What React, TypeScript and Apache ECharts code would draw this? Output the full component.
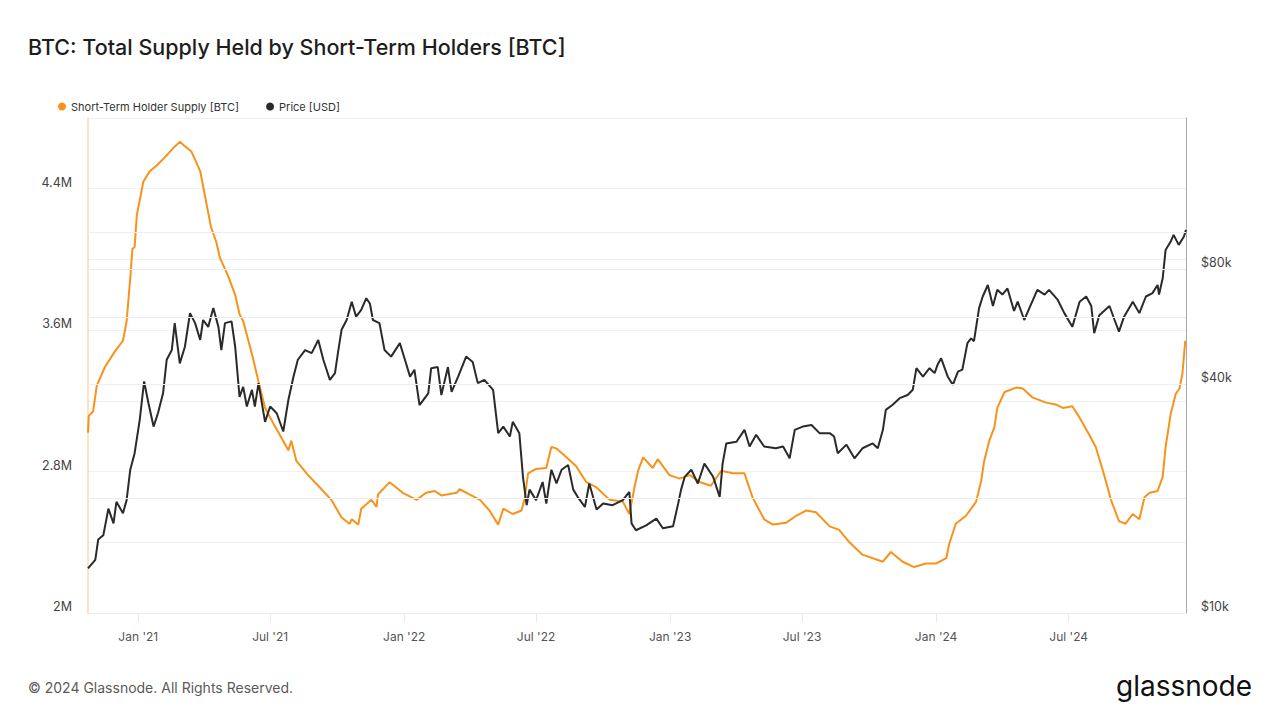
import React, { useEffect, useRef } from "react";
import * as echarts from "echarts";

// ---- Data ----
const START_UTC = Date.UTC(2020, 9, 24); // first day on the x axis
const DAY_COUNT = 1508; // Oct 24 2020 .. Dec 8 2024

// Short-Term Holder Supply [BTC], in millions; x = days since start
const sthDays = [
  0, 1, 7, 12, 23, 37, 48, 53, 58, 61, 64, 67, 76, 85, 94, 106, 117, 126, 133, 142,
  154, 160, 169, 176, 181, 192, 202, 208, 213, 225, 234, 243, 256, 275, 279, 286, 302, 316, 334, 348,
  359, 362, 371, 375, 389, 396, 398, 414, 432, 451, 464, 476, 485, 506, 510, 524, 538, 551, 563, 570,
  583, 595, 599, 604, 615, 629, 636, 643, 657, 670, 684, 698, 716, 734, 743, 750, 755, 762, 775, 782,
  798, 812, 826, 840, 855, 869, 885, 901, 912, 928, 940, 958, 972, 986, 999, 1018, 1031, 1045, 1063, 1091,
  1102, 1118, 1134, 1150, 1164, 1178, 1182, 1191, 1205, 1219, 1226, 1230, 1237, 1244, 1248, 1258, 1274, 1283, 1296, 1315,
  1328, 1338, 1351, 1361, 1374, 1383, 1393, 1404, 1415, 1424, 1434, 1443, 1450, 1457, 1468, 1475, 1479, 1486, 1493, 1498,
  1502, 1506,
];
const sthSupplyM = [
  3.02, 3.115, 3.14, 3.285, 3.39, 3.48, 3.54, 3.65, 3.895, 4.06, 4.07, 4.25, 4.44, 4.5, 4.53, 4.58, 4.63, 4.665, 4.64, 4.61,
  4.5, 4.37, 4.18, 4.1, 4.01, 3.91, 3.8, 3.69, 3.65, 3.465, 3.31, 3.16, 3.06, 2.92, 2.975, 2.86, 2.78, 2.72, 2.64, 2.54,
  2.505, 2.53, 2.5, 2.59, 2.64, 2.6, 2.67, 2.74, 2.68, 2.64, 2.68, 2.69, 2.665, 2.68, 2.7, 2.67, 2.64, 2.58, 2.5, 2.59,
  2.56, 2.58, 2.64, 2.79, 2.815, 2.82, 2.94, 2.93, 2.88, 2.83, 2.74, 2.71, 2.64, 2.63, 2.56, 2.71, 2.805, 2.88, 2.82, 2.87,
  2.78, 2.76, 2.78, 2.74, 2.72, 2.805, 2.79, 2.79, 2.655, 2.53, 2.5, 2.51, 2.55, 2.58, 2.57, 2.49, 2.47, 2.4, 2.33, 2.29,
  2.345, 2.29, 2.26, 2.28, 2.28, 2.31, 2.39, 2.505, 2.55, 2.63, 2.75, 2.86, 2.975, 3.05, 3.16, 3.25, 3.275, 3.27, 3.22, 3.19,
  3.18, 3.16, 3.17, 3.105, 3.01, 2.94, 2.805, 2.64, 2.52, 2.505, 2.56, 2.53, 2.655, 2.68, 2.69, 2.77, 2.94, 3.125, 3.24, 3.27,
  3.35, 3.54,
];

// Price [USD], in thousands; x = days since start
const priceDays = [
  0, 10, 14, 21, 28, 35, 39, 48, 53, 58, 64, 71, 77, 83, 90, 96, 103, 108, 115, 119,
  126, 133, 140, 147, 154, 158, 165, 172, 179, 183, 188, 197, 202, 208, 213, 218, 225, 229, 234, 243,
  250, 259, 268, 275, 282, 288, 298, 307, 316, 323, 332, 339, 343, 348, 355, 362, 368, 375, 382, 387,
  391, 400, 407, 416, 428, 435, 442, 448, 455, 467, 471, 480, 485, 494, 499, 508, 519, 528, 535, 544,
  556, 563, 570, 579, 583, 592, 597, 602, 606, 615, 624, 629, 636, 643, 650, 659, 666, 672, 682, 688,
  698, 707, 720, 734, 743, 746, 752, 766, 780, 789, 803, 810, 814, 819, 828, 837, 846, 858, 867, 871,
  876, 890, 901, 908, 917, 928, 944, 954, 963, 970, 981, 993, 1004, 1018, 1024, 1029, 1041, 1052, 1063, 1077,
  1084, 1091, 1095, 1104, 1114, 1125, 1132, 1137, 1146, 1155, 1162, 1166, 1171, 1180, 1187, 1194, 1200, 1207, 1212, 1216,
  1223, 1228, 1235, 1242, 1248, 1255, 1262, 1271, 1276, 1285, 1292, 1303, 1313, 1319, 1331, 1340, 1351, 1361, 1370, 1377,
  1381, 1388, 1402, 1409, 1415, 1422, 1434, 1443, 1452, 1461, 1468, 1470, 1475, 1479, 1486, 1490, 1497, 1504, 1507,
];
const priceK = [
  13.1, 13.8, 15.6, 16.0, 18.8, 17.2, 19.6, 18.3, 19.8, 23.8, 26.3, 32.2, 40.6, 35.6, 30.9, 33.5, 37.8, 46.3, 49.1, 57.8,
  45.3, 50.1, 61.4, 57.8, 52.2, 58.9, 56.5, 63.3, 56.5, 49.1, 57.8, 58.4, 50.1, 37.0, 39.3, 34.9, 38.6, 34.9, 40.2, 31.8,
  34.9, 33.5, 30.0, 36.3, 41.8, 46.3, 49.1, 48.2, 52.2, 46.3, 41.0, 42.7, 48.2, 55.5, 58.9, 65.8, 60.1, 62.6, 67.2, 65.0,
  58.9, 57.8, 49.1, 47.2, 51.2, 46.3, 41.8, 43.6, 35.2, 37.8, 44.0, 44.3, 37.4, 44.3, 38.1, 41.8, 47.2, 45.7, 40.2, 41.0,
  38.6, 29.7, 30.9, 29.1, 31.8, 29.7, 22.8, 19.2, 21.1, 19.8, 22.1, 19.4, 23.8, 21.9, 23.8, 24.5, 21.1, 20.2, 19.0, 21.9,
  18.7, 19.4, 19.2, 19.8, 20.8, 17.2, 16.5, 17.0, 17.7, 16.7, 16.9, 19.4, 21.1, 22.8, 23.8, 21.9, 24.7, 22.8, 20.2, 24.7,
  27.9, 28.2, 30.3, 27.4, 29.4, 27.4, 27.1, 27.4, 25.5, 30.3, 30.9, 31.2, 29.7, 29.7, 29.1, 26.3, 27.7, 25.5, 27.1, 27.9,
  27.1, 30.3, 34.2, 35.2, 36.7, 37.4, 38.6, 44.0, 41.8, 44.0, 42.7, 44.9, 46.7, 41.8, 39.8, 43.1, 43.6, 51.2, 52.7, 51.8,
  63.3, 67.9, 72.8, 64.1, 70.7, 68.7, 71.3, 62.2, 65.8, 58.9, 63.3, 70.7, 68.7, 70.7, 66.5, 61.4, 56.5, 65.8, 67.9, 64.1,
  54.4, 60.6, 64.1, 58.9, 54.9, 60.1, 65.8, 61.4, 67.9, 69.3, 72.8, 68.7, 75.8, 90.0, 94.7, 98.6, 92.8, 97.5, 101.6,
];

// Axis levels
const supplyGridM = [2.0, 2.4, 2.8, 3.2, 3.6, 4.0, 4.4, 4.8];
const supplyTickLabelsM = [2.0, 2.8, 3.6, 4.4];
const priceGridLevels = [10000, 20000, 40000, 60000, 80000, 100000];
const priceTickLabels = [10000, 40000, 80000];
const MONTHS = ["Jan", "Feb", "Mar", "Apr", "May", "Jun", "Jul", "Aug", "Sep", "Oct", "Nov", "Dec"];

const SERIES_STH = "Short-Term Holder Supply [BTC]";
const SERIES_PRICE = "Price [USD]";

function buildCategories(): string[] {
  const out: string[] = [];
  for (let i = 0; i < DAY_COUNT; i++) {
    const d = new Date(START_UTC + i * 86400000);
    const y = d.getUTCFullYear();
    const m = String(d.getUTCMonth() + 1).padStart(2, "0");
    const dd = String(d.getUTCDate()).padStart(2, "0");
    out.push(`${y}-${m}-${dd}`);
  }
  return out;
}

function isHalfYear(v: string): boolean {
  return v.endsWith("-01-01") || v.endsWith("-07-01");
}

export default function App() {
  const ref = useRef<HTMLDivElement>(null);

  useEffect(() => {
    if (!ref.current) return;
    const chart = echarts.init(ref.current, undefined, { renderer: "svg" });
    const categories = buildCategories();
    const font = "Inter, 'Noto Sans', sans-serif";

    const option: any = {
      animation: false,
      backgroundColor: "#ffffff",
      textStyle: { fontFamily: font },
      title: {
        text: "BTC: Total Supply Held by Short-Term Holders [BTC]",
        left: 28,
        top: 36,
        padding: 0,
        textStyle: { fontSize: 21.5, fontWeight: 500, color: "#1d1d1d", fontFamily: font },
      },
      legend: {
        data: [SERIES_STH, SERIES_PRICE],
        left: 53,
        top: 96,
        icon: "circle",
        itemWidth: 8,
        itemHeight: 8,
        itemGap: 27,
        textStyle: { fontSize: 11, color: "#333", fontFamily: font },
      },
      grid: { left: 88, right: 94, top: 118, bottom: 107, containLabel: false },
      xAxis: {
        type: "category",
        data: categories,
        boundaryGap: false,
        axisLine: { show: true, lineStyle: { color: "#e4e4e4", width: 1 } },
        axisTick: {
          show: true,
          interval: (_i: number, v: string) => isHalfYear(v),
          length: 9,
          lineStyle: { color: "#e8e8e8" },
        },
        axisLabel: {
          interval: (_i: number, v: string) => isHalfYear(v),
          formatter: (v: string) => {
            const [y, m] = v.split("-");
            return `${MONTHS[Number(m) - 1]} '${y.slice(2)}`;
          },
          color: "#555",
          fontSize: 12,
          margin: 17,
          fontFamily: font,
        },
        splitLine: { show: false },
      },
      yAxis: [
        {
          type: "value",
          position: "left",
          min: supplyGridM[0] * 1e6,
          max: supplyGridM[supplyGridM.length - 1] * 1e6,
          interval: (supplyGridM[1] - supplyGridM[0]) * 1e6,
          axisLine: { show: true, lineStyle: { color: "rgba(247,147,26,0.35)", width: 1.5 } },
          axisTick: { show: false },
          splitLine: { show: true, lineStyle: { color: "#f0f0f0", width: 1 } },
          axisLabel: {
            color: "#444",
            fontSize: 12.5,
            margin: 16,
            verticalAlign: "bottom",
            fontFamily: font,
            showMaxLabel: false,
            formatter: (v: number) => {
              const m = Math.round(v / 1e5) / 10;
              return supplyTickLabelsM.some((t) => Math.abs(t - m) < 1e-6) ? `${m}M` : "";
            },
          },
        },
        {
          type: "log",
          logBase: 10,
          position: "right",
          min: 10000,
          max: 200000,
          axisLine: { show: true, lineStyle: { color: "#a8a8a8", width: 1 } },
          axisTick: { show: false },
          axisLabel: { show: false },
          splitLine: { show: false },
          minorSplitLine: { show: false },
        },
      ],
      series: [
        {
          name: "__priceGrid",
          type: "line",
          yAxisIndex: 1,
          data: [],
          z: 1,
          silent: true,
          markLine: {
            silent: true,
            symbol: "none",
            animation: false,
            lineStyle: { color: "#eeeeee", width: 1, type: "solid" },
            label: {
              show: true,
              position: "end",
              distance: 15,
              color: "#444",
              fontSize: 12.5,
              fontFamily: font,
              verticalAlign: "bottom",
            },
            data: priceGridLevels.map((p) => ({
              yAxis: p,
              label: {
                show: priceTickLabels.includes(p),
                formatter: `$${p / 1000}k`,
                verticalAlign: "bottom",
              },
            })),
          },
        },
        {
          name: SERIES_STH,
          type: "line",
          yAxisIndex: 0,
          showSymbol: false,
          symbol: "circle",
          z: 3,
          color: "#f7931a",
          lineStyle: { color: "#f7931a", width: 2 },
          data: sthDays.map((d, i) => [d, sthSupplyM[i] * 1e6]),
        },
        {
          name: SERIES_PRICE,
          type: "line",
          yAxisIndex: 1,
          showSymbol: false,
          symbol: "circle",
          z: 4,
          color: "#2a2a2a",
          lineStyle: { color: "#2a2a2a", width: 2 },
          data: priceDays.map((d, i) => [d, priceK[i] * 1000]),
        },
      ],
      graphic: [
        {
          type: "text",
          left: 28,
          top: 680,
          style: {
            text: "© 2024 Glassnode. All Rights Reserved.",
            fontSize: 14,
            fill: "#5a5a5a",
            fontFamily: font,
          },
        },
        {
          type: "text",
          right: 28,
          top: 672,
          style: {
            text: "glassnode",
            fontSize: 28,
            fill: "#111111",
            fontFamily: font,
          },
        },
      ],
    };

    chart.setOption(option);
    return () => chart.dispose();
  }, []);

  return (
    <div
      ref={ref}
      style={{ position: "fixed", left: 0, top: 0, width: 1280, height: 720, background: "#fff" }}
    />
  );
}
